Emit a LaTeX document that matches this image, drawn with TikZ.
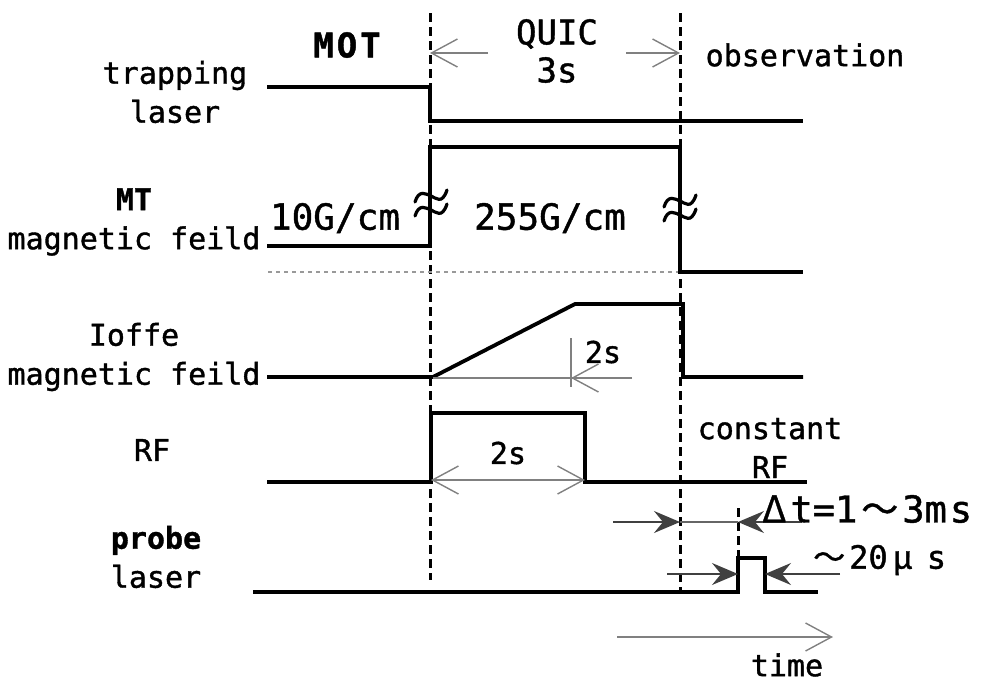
\documentclass[tikz,border=0pt]{standalone}
\usepackage{fontspec}
\setmainfont[FakeBold=1.2]{DejaVu Sans Mono}
\newfontfamily\cjk[FakeBold=1]{Noto Sans CJK JP}
\usetikzlibrary{arrows.meta}
\begin{document}
\begin{tikzpicture}[x=1pt,y=-1pt,
  sig/.style={line width=3.8pt},
  vdash/.style={line width=3pt, dash pattern=on 9pt off 5pt},
  thin gray/.style={draw=black!50, line width=1.4pt},
  barb/.style={-{Straight Barb[length=26pt,width=28pt,line width=1.4pt]}},
  dbarb/.style={{Straight Barb[length=26pt,width=28pt,line width=1.4pt]}-{Straight Barb[length=26pt,width=28pt,line width=1.4pt]}},
  stl/.style={-{Stealth[length=26pt,width=22pt,inset=9pt]}, line width=1.4pt},
  lbl/.style={inner sep=0pt, font=\fontsize{30}{39}\selectfont, align=center},
  big/.style={inner sep=0pt, font=\fontsize{36}{40}\selectfont, align=center},
  brk/.style={line width=3.2pt, line cap=round}
]
\useasboundingbox (0,0) rectangle (991,686);

% ---- coordinates of the time markers
\coordinate (L1t) at (430,13);  \coordinate (L1b) at (430,580);
\coordinate (L2t) at (680,13);  \coordinate (L2b) at (680,590);
\coordinate (L3t) at (738,508); \coordinate (L3b) at (738,558);

% ---- left labels
\node[lbl] (trap)  at (175,92)  {trapping\\laser};
\node[lbl] (mt)    at (134,222) {\textbf{MT}\\magnetic feild};
\node[lbl] (ioffe) at (134,357) {Ioffe\\magnetic feild};
\node[lbl] (rf)    at (152,450) {RF};
\node[lbl] (probe) at (156,557) {\bfseries probe\\laser};

% ---- top labels
\node[inner sep=0pt, font=\fontsize{34}{38}\bfseries] (mot) at (347,45) {M\hspace{3pt}O\hspace{3pt}T};
\node[inner sep=0pt, font=\fontsize{34}{38}\selectfont] (quic) at (557,34) {QUIC};
\node[inner sep=0pt, font=\fontsize{34}{38}\selectfont] (q3s) at (557,70) {3s};
\node[lbl] (obs) at (805,55) {observation};

% ---- dashed time markers
\draw[vdash] (L1t) -- (L1b);
\draw[vdash] (L2t) -- (L2b);
\draw[vdash] (L3t) -- (L3b);

% QUIC arrows
\coordinate (qa1) at (488,53); \coordinate (qa2) at (626,53);
\coordinate (qL) at (430,53);  \coordinate (qR) at (680,53);
\draw[thin gray, barb] (qa1) -- (qL);
\draw[thin gray, barb] (qa2) -- (qR);

% ---- trapping laser
\draw[sig] (267,87) -- (430,87) -- (430,121) -- (803,121);

% ---- MT magnetic field
\draw[draw=black!40, line width=1.6pt, dash pattern=on 4pt off 4pt] (268,272) -- (680,272);
\draw[sig] (267,246) -- (430,246) -- (430,147) -- (680,147) -- (680,272) -- (803,272);
\node[big] (g10)  at (335,218) {10G/cm};
\node[big] (g255) at (550,218) {255G/cm};
% break marks
\foreach \cx/\cy in {431/203, 680/208}{
  \begin{scope}[shift={(\cx,\cy)}]
    \draw[brk] (-16,-1) .. controls (-12,-14) and (-5,-9) .. (0,-7) .. controls (5,-5) and (11,2) .. (16,-13);
    \draw[brk] (-16,13) .. controls (-12,0) and (-5,5) .. (0,7) .. controls (5,9) and (11,16) .. (16,1);
  \end{scope}
}

% ---- Ioffe magnetic field
\draw[sig] (267,377) -- (433,377) -- (575,304) -- (683,304) -- (683,377) -- (803,377);
\coordinate (ia) at (433,378); \coordinate (ib) at (632,378); \coordinate (ih) at (571,378);
\draw[thin gray] (ia) -- (ib);
\draw[thin gray, barb] (ib) -- (ih);
\draw[thin gray] (571,338) -- (571,387);
\node[lbl] (i2s) at (603,352) {2s};

% ---- RF
\draw[sig] (267,482) -- (431,482) -- (431,413) -- (585,413) -- (585,482) -- (807,482);
\coordinate (ra) at (431,480); \coordinate (rb) at (585,480);
\draw[thin gray, dbarb] (ra) -- (rb);
\node[lbl] (r2s) at (508,453) {2s};
\node[lbl] (crf) at (770,448) {constant\\RF};

% ---- probe laser
\draw[sig] (253,592) -- (738,592) -- (738,558) -- (765,558) -- (765,592) -- (818,592);

% delta t
\coordinate (d0) at (613,522); \coordinate (d1) at (680,522);
\coordinate (d2) at (738,522); \coordinate (d3) at (802,522);
\draw[stl, draw=black!75] (d0) -- (d1);
\draw[draw=black!60, line width=1.4pt] (d1) -- (d2);
\draw[stl, draw=black!75] (d3) -- (d2);
\node[inner sep=0pt, anchor=west, font=\fontsize{37}{40}\selectfont] (dt) at (762,509)
  {{\cjk Δ}\hspace{4pt}t=1\hspace{4pt}{\cjk ～}\hspace{4pt}3m\hspace{3pt}s};

% pulse width
\coordinate (p0) at (667,574); \coordinate (p1) at (738,574);
\coordinate (p2) at (840,574); \coordinate (p3) at (765,574);
\draw[stl, draw=black!75] (p0) -- (p1);
\draw[stl, draw=black!75] (p2) -- (p3);
\node[inner sep=0pt, anchor=west, font=\fontsize{32}{36}\selectfont] (pw) at (813,560)
  {{\cjk ～}\hspace{4pt}20\hspace{5pt}{\cjk\itshape μ}\hspace{14pt}s};

% ---- time arrow
\coordinate (t0) at (617,637); \coordinate (t1) at (833,637);
\draw[thin gray, barb] (t0) -- (t1);
\node[lbl] (time) at (787,665) {time};
\end{tikzpicture}
\end{document}
